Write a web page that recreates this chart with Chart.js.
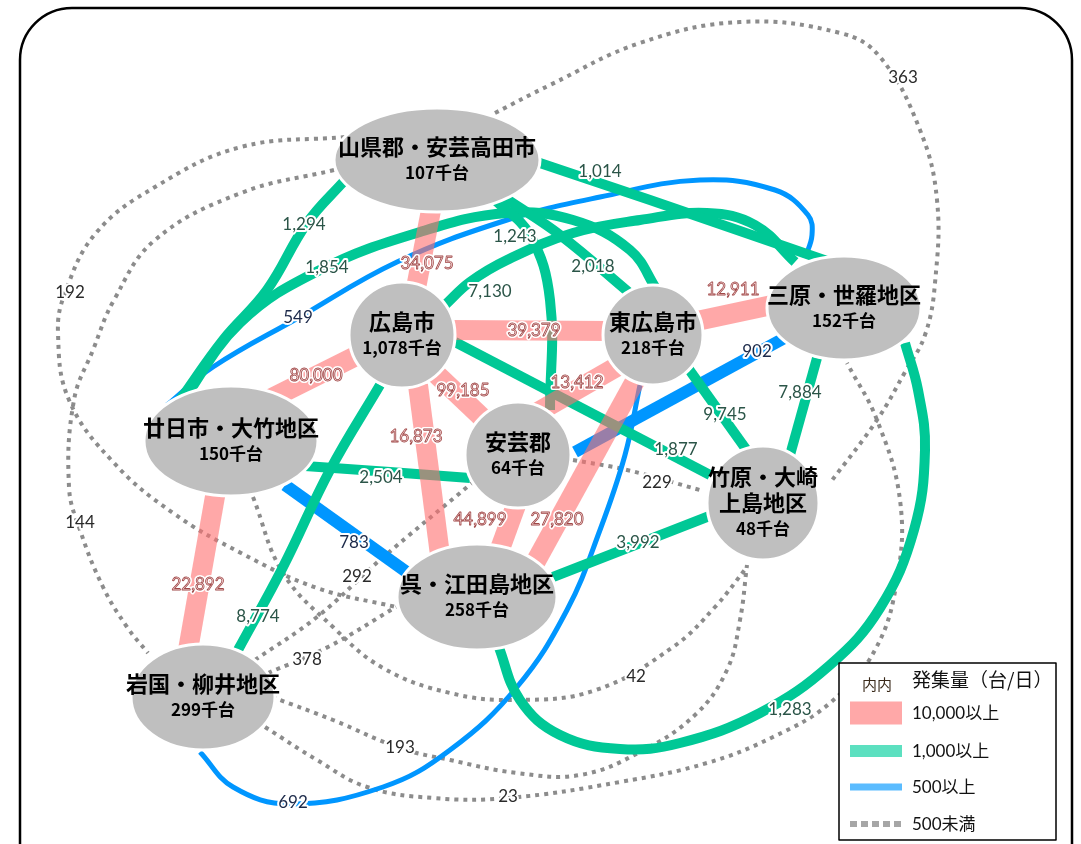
<!DOCTYPE html>
<html><head><meta charset="utf-8">
<script src="https://cdn.jsdelivr.net/npm/chart.js@4"></script>
<style>html,body{margin:0;padding:0;background:#fff}#wrap{width:1081px;height:844px;position:relative}</style>
</head><body><div id="wrap"><canvas id="c"></canvas></div>
<script>
// ---------- DATA ----------
const nodeNames = ['山県郡・安芸高田市','広島市','東広島市','三原・世羅地区','廿日市・大竹地区','安芸郡','竹原・大崎上島地区','呉・江田島地区','岩国・柳井地区'];
const nodeVolumes = [107,1078,218,152,150,64,48,258,299]; // 千台
// node index: 0 山県 1 広島 2 東広島 3 三原 4 廿日市 5 安芸郡 6 竹原 7 呉 8 岩国
const edgeFrom  = [0,1,2,1,1,1,2,5,2,4, 0,0,0,0,4,1,1,2,3,7,4,1,7, 4,3,4,8, 0,0,0,4,5,8,8,8,8];
const edgeTo    = [1,2,3,4,5,7,5,7,7,8, 4,3,2,5,2,3,6,6,6,6,5,8,3, 3,5,7,2, 6,7,8,6,6,5,7,6,3];
const edgeValues= [34075,39379,12911,80000,99185,16873,13412,44899,27820,22892,
                   1294,1014,2018,1243,1854,7130,1877,9745,7884,3992,2504,8774,1283,
                   549,902,783,692,
                   363,192,144,42,229,292,378,193,23];
const thresholds = [10000,1000,500,0];
const legendTitle = '発集量（台/日）';
const legendLabels = ['10,000以上','1,000以上','500以上','500未満'];
const unitLabel = '千台';

// ---------- LAYOUT (positions / routes, not data) ----------
const layout = {
  nodes:[
    {x:437,y:160,rx:103,ry:52},
    {x:402,y:335,rx:53,ry:53},
    {x:653,y:335,rx:50,ry:50},
    {x:844,y:308,rx:77,ry:52},
    {x:231,y:441,rx:87,ry:55},
    {x:518,y:455,rx:53,ry:53},
    {x:763,y:503,rx:56,ry:57},
    {x:477,y:597,rx:80,ry:53},
    {x:203,y:697,rx:72,ry:53}
  ],
  wrap:{6:['竹原・大崎','上島地区']},
  edges:[
    {p:[[432,205],[416,288]],l:[427,264]},
    {p:[[450,330],[610,331]],l:[534,331]},
    {p:[[697,321],[772,305]],l:[733,290]},
    {p:[[362,353],[268,400]],l:[316,376]},
    {p:[[432,370],[492,427]],l:[463,391]},
    {p:[[418,385],[440,555]],l:[416,437]},
    {p:[[625,362],[538,412]],l:[577,383]},
    {p:[[516,505],[496,560]],l:[480,520]},
    {p:[[640,372],[530,572]],l:[557,520]},
    {p:[[217,485],[188,650]],l:[198,585]},

    {p:[[345,180],[307,223],[267,290],[223,340],[180,400]],l:[304,225]},
    {p:[[525,158],[650,200],[830,262]],l:[600,172]},
    {p:[[505,198],[560,235],[632,295]],l:[593,267]},
    {p:[[495,200],[530,235],[550,300],[550,410]],l:[515,237]},
    {p:[[180,405],[240,323],[320,270],[420,232],[507,213],[573,220],[630,250],[657,290]],l:[327,268]},
    {p:[[445,305],[470,282],[507,260],[573,233],[640,220],[707,213],[755,225],[795,262]],l:[490,292]},
    {p:[[455,342],[710,475]],l:[676,450]},
    {p:[[688,368],[748,452]],l:[725,415]},
    {p:[[817,358],[790,455]],l:[800,393]},
    {p:[[553,577],[712,515]],l:[638,543]},
    {p:[[305,466],[390,472],[470,478]],l:[381,478]},
    {p:[[380,385],[330,470],[283,567],[238,650]],l:[258,617]},
    {p:[[498,645],[520,700],[560,735],[620,749],[680,743],[760,713],[830,665],[880,608],[914,530],[925,450],[918,390],[905,343]],l:[790,710]},

    {p:[[167,405],[213,367],[298,318],[397,262],[507,220],[600,197],[700,180],[775,190],[808,215],[812,235],[805,258]],l:[298,318],w:5},
    {p:[[790,335],[575,452]],l:[757,352],w:12},
    {p:[[285,485],[408,573]],l:[354,543],w:12},
    {p:[[200,752],[233,787],[290,804],[383,787],[450,750],[517,687],[567,610],[600,530],[625,455],[640,385]],l:[293,803],w:5},

    {p:[[495,113],[550,85],[640,43],[740,22],[840,33],[880,57],[920,130],[937,200],[935,283],[925,335],[905,372],[877,420],[830,483]],l:[903,78]},
    {p:[[345,137],[241,147],[155,187],[96,233],[65,293],[58,333],[69,400],[114,463],[173,513],[241,553],[317,588],[396,607]],l:[70,293]},
    {p:[[334,170],[241,193],[155,240],[114,300],[93,350],[74,400],[69,487],[80,530],[103,587],[127,627],[148,653]],l:[80,523]},
    {p:[[253,497],[283,573],[333,627],[383,668],[450,693],[517,700],[596,690],[673,647],[715,607],[747,567]],l:[636,677]},
    {p:[[573,460],[627,470],[700,490]],l:[657,483]},
    {p:[[255,660],[317,617],[380,560],[472,483]],l:[357,577]},
    {p:[[268,673],[328,647],[396,607]],l:[307,660]},
    {p:[[272,697],[333,720],[400,748],[450,760],[517,773],[580,775],[640,752],[695,715],[727,670],[740,620],[747,565]],l:[400,748]},
    {p:[[265,727],[317,760],[367,787],[433,798],[508,798],[620,782],[707,763],[773,737],[830,703],[875,650],[897,580],[900,500],[877,420],[847,363]],l:[508,797]}
  ]
};

// ---------- STYLES ----------
const catStyle = [
  {color:'rgba(255,110,110,0.6)', width:20, dash:[], legend:'#ffa8a8', txt:'#fae3e3', out:'#a04848'},
  {color:'#00c896', width:10, dash:[], legend:'#5ce0c0', txt:'#2b5548', out:null},
  {color:'#0096ff', width:8, dash:[], legend:'#5bbcff', txt:'#1c2a4a', out:null},
  {color:'#8c8c8c', width:4, dash:[4,5], legend:'#a6a6a6', txt:'#2a2a2a', out:null}
];
const catOf = v => thresholds.findIndex(t => v >= t);
const fmt = v => v.toLocaleString('en-US');

const datasets = edgeValues.map((v,i)=>{
  const c = catOf(v), s = catStyle[c], e = layout.edges[i];
  return {
    label: nodeNames[edgeFrom[i]]+'–'+nodeNames[edgeTo[i]],
    data: e.p.map(([x,y])=>({x,y})),
    showLine:true, pointRadius:0, pointHoverRadius:0,
    borderColor:s.color, borderWidth:e.w||s.width, borderDash:s.dash,
    borderCapStyle:'butt', tension:e.p.length>2?0.4:0, fill:false,
    order:c, clip:false
  };
});

const netPlugin = {
  id:'net',
  afterDatasetsDraw(chart){
    const ctx = chart.ctx, X = chart.scales.x, Y = chart.scales.y;
    const px = v => X.getPixelForValue(v), py = v => Y.getPixelForValue(v);
    ctx.save();
    // nodes
    nodeNames.forEach((name,i)=>{
      const n = layout.nodes[i];
      const cx = px(n.x), cy = py(n.y);
      const rx = Math.abs(px(n.x+n.rx)-cx), ry = Math.abs(py(n.y+n.ry)-cy);
      ctx.beginPath(); ctx.ellipse(cx,cy,rx,ry,0,0,Math.PI*2);
      ctx.fillStyle='#bfbfbf'; ctx.fill();
      ctx.lineWidth=3; ctx.strokeStyle='#ffffff'; ctx.stroke();
      const lines = (layout.wrap[i]||[name]).slice();
      lines.push(fmt(nodeVolumes[i])+unitLabel);
      ctx.fillStyle='#000'; ctx.textAlign='center'; ctx.textBaseline='middle';
      const gap = 26, top = cy - gap*(lines.length-1)/2;
      lines.forEach((t,k)=>{
        const last = k===lines.length-1;
        ctx.font = (last?'bold 17px':'bold 22px')+' "Noto Sans CJK JP", sans-serif';
        ctx.fillText(t, cx, top+gap*k);
      });
    });
    // edge labels
    ctx.font='17px Lato, "Liberation Sans", sans-serif';
    ctx.textAlign='center'; ctx.textBaseline='middle'; ctx.lineJoin='round';
    edgeValues.forEach((v,i)=>{
      const s = catStyle[catOf(v)], [lx,ly] = layout.edges[i].l;
      const x = px(lx), y = py(ly), t = fmt(v);
      ctx.lineWidth=4; ctx.strokeStyle='#ffffff'; ctx.strokeText(t,x,y);
      ctx.fillStyle=s.txt; ctx.fillText(t,x,y);
      if(s.out){ctx.lineWidth=0.8; ctx.strokeStyle=s.out; ctx.strokeText(t,x,y);}
    });
    // legend
    const L = {x:839,y:663,w:217,h:177};
    ctx.fillStyle='#fff'; ctx.fillRect(L.x,L.y,L.w,L.h);
    ctx.lineWidth=1.5; ctx.strokeStyle='#000'; ctx.strokeRect(L.x,L.y,L.w,L.h);
    ctx.textAlign='left'; ctx.textBaseline='middle';
    ctx.font='15px "Noto Sans CJK JP", sans-serif'; ctx.fillStyle='#3a2a1a';
    ctx.fillText('内内', 862, 684);
    ctx.font='19px "Noto Sans CJK JP", sans-serif'; ctx.fillStyle='#111';
    ctx.fillText(legendTitle, 912, 680);
    const rows = [{y:713,h:23},{y:751,h:12},{y:787,h:7},{y:824,h:6}];
    legendLabels.forEach((t,k)=>{
      const s = catStyle[k], r = rows[k];
      ctx.fillStyle=s.legend;
      if(k===3){
        for(let q=0;q<5;q++) ctx.fillRect(850+q*11, r.y-r.h/2, 7, r.h);
      } else { ctx.fillRect(850, r.y-r.h/2, 52, r.h); }
      ctx.font='17px Lato, "Noto Sans CJK JP", sans-serif'; ctx.fillStyle='#111';
      ctx.fillText(t, 912, r.y+1);
    });
    // frame
    ctx.beginPath(); ctx.lineWidth=2.5; ctx.strokeStyle='#000';
    const R=52, l=20, tp=8, rt=1072, bt=900;
    ctx.moveTo(l,bt); ctx.lineTo(l,tp+R); ctx.arcTo(l,tp,l+R,tp,R);
    ctx.lineTo(rt-R,tp); ctx.arcTo(rt,tp,rt,tp+R,R); ctx.lineTo(rt,bt); ctx.stroke();
    ctx.restore();
  }
};

new Chart(document.getElementById('c'),{
  type:'scatter',
  data:{datasets},
  options:{
    responsive:true, maintainAspectRatio:false, animation:false,
    layout:{padding:0}, events:[],
    scales:{
      x:{type:'linear',min:0,max:1081,display:false},
      y:{type:'linear',min:0,max:844,reverse:true,display:false}
    },
    plugins:{legend:{display:false},tooltip:{enabled:false}}
  },
  plugins:[netPlugin]
});
</script></body></html>
